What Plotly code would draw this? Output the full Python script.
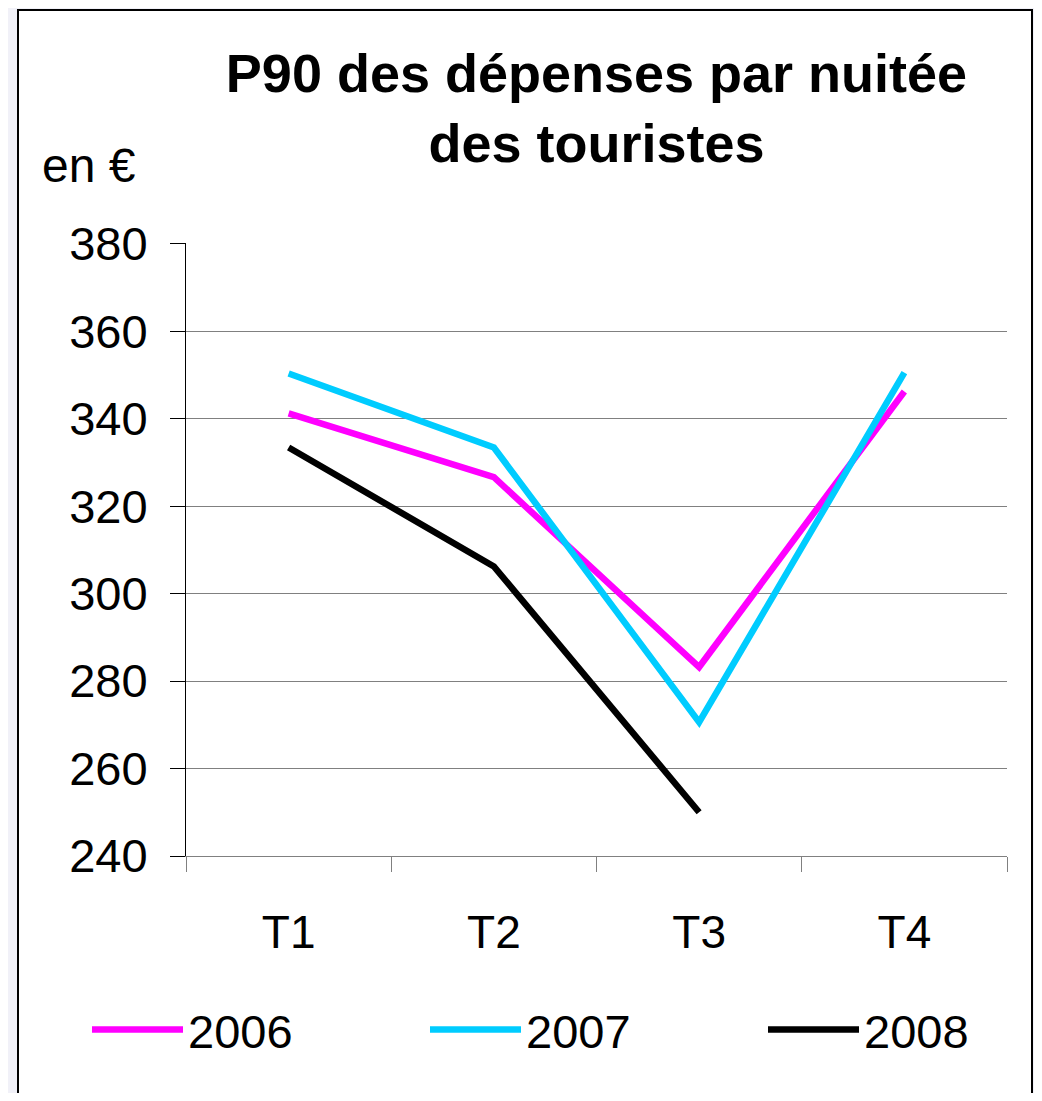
import plotly.graph_objects as go

categories = ["T1", "T2", "T3", "T4"]
series_names = ["2006", "2007", "2008"]
values_2006 = [341.2, 326.6, 283.2, 346.2]
values_2007 = [350.3, 333.4, 270.6, 350.5]
values_2008 = [333.4, 306.2, 250.0, None]
colors = ["#FF00FF", "#00CCFF", "#000000"]
y_ticks = [240, 260, 280, 300, 320, 340, 360, 380]

FONT = "Liberation Sans, Arial, sans-serif"

legend_entry_widths = [232, 232, 110]

fig = go.Figure()
for name, vals, col, lw in zip(series_names, [values_2006, values_2007, values_2008],
                               colors, legend_entry_widths):
    fig.add_trace(go.Scatter(x=categories, y=vals, name=name, mode="lines",
                             line=dict(color=col, width=6.5), legendwidth=lw))

OFF = 8  # page body margin
W, H = 1042 - 2 * OFF, 1101 - 2 * OFF
L = 186 - OFF
T = 243 - OFF
R = W - (1007 - OFF)
B = H - (856 - OFF)
pw = W - L - R
ph = H - T - B

def px(xr):
    return (xr - OFF - L) / pw

def py(yr):
    return (H - B - (yr - OFF)) / ph

fig.update_layout(
    width=W, height=H,
    margin=dict(l=L, r=R, t=T, b=B, autoexpand=False),
    paper_bgcolor="#f1f1f8",
    plot_bgcolor="rgba(0,0,0,0)",
    font=dict(family=FONT, size=46, color="black"),
    title=dict(text="<b>P90 des dépenses par nuitée<br>des touristes</b>",
               font=dict(family=FONT, size=54, color="black"),
               x=0.5, xref="paper", xanchor="center",
               y=1 - 84 / H, yref="container", yanchor="top"),
    showlegend=True,
    legend=dict(orientation="h", x=px(87), xanchor="left", y=py(1030), yanchor="middle",
                font=dict(family=FONT, size=47), itemwidth=91,
                bgcolor="rgba(0,0,0,0)", traceorder="normal"),
    xaxis=dict(type="category", range=[-0.5, 3.5], showgrid=False,
               showline=True, linecolor="#808080", linewidth=1,
               ticks="outside", tickson="boundaries", ticklen=15, tickcolor="#808080",
               tickfont=dict(size=46), ticklabelstandoff=36, fixedrange=True),
    yaxis=dict(range=[240, 380.15], tickvals=y_ticks, showgrid=True, gridcolor="#808080",
               gridwidth=1, showline=True, linecolor="black", linewidth=1,
               ticks="outside", ticklen=15, tickcolor="black",
               tickfont=dict(size=47), ticklabelstandoff=13, zeroline=False, fixedrange=True),
    shapes=[dict(type="rect", xref="paper", yref="paper", layer="below",
                 x0=px(18), x1=px(1032), y0=py(1110), y1=py(10),
                 fillcolor="white", line=dict(color="black", width=2))],
    annotations=[dict(text="en €", xref="paper", yref="paper", x=px(40), y=py(166),
                      xanchor="left", yanchor="middle", showarrow=False,
                      font=dict(family=FONT, size=48, color="black"))],
)

fig.write_html("out.html")
